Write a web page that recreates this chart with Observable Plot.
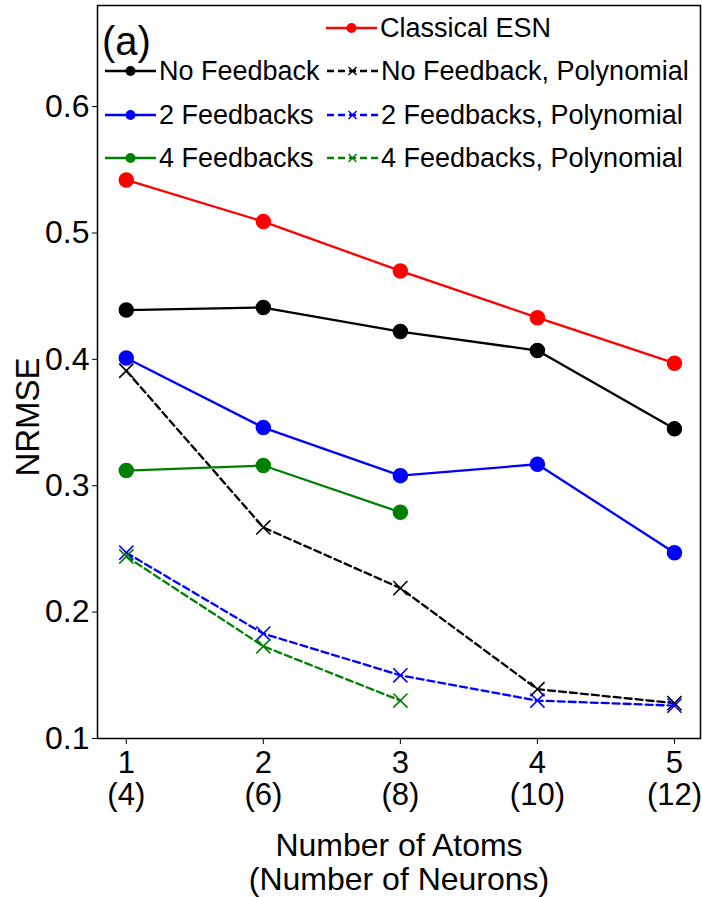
<!DOCTYPE html>
<html>
<head>
<meta charset="utf-8">
<script src="https://cdn.jsdelivr.net/npm/d3@7"></script>
<script src="https://cdn.jsdelivr.net/npm/@observablehq/plot@0.6"></script>
<style>
  html, body { margin: 0; padding: 0; background: white; }
  svg text { font-family: "Liberation Sans", Arial, sans-serif; }
</style>
</head>
<body>
<div id="chart"></div>
<script>
// ---- data ----
const atoms = [1, 2, 3, 4, 5];
const neurons = [4, 6, 8, 10, 12];
const yTicks = [0.1, 0.2, 0.3, 0.4, 0.5, 0.6];

const classicalESN = [0.542, 0.509, 0.470, 0.433, 0.397];
const noFeedback = [0.439, 0.441, 0.422, 0.407, 0.345];
const feedbacks2 = [0.401, 0.346, 0.308, 0.317, 0.247];
const feedbacks4 = [0.312, 0.316, 0.279];
const noFeedbackPoly = [0.391, 0.267, 0.219, 0.139, 0.128];
const feedbacks2Poly = [0.247, 0.183, 0.150, 0.130, 0.126];
const feedbacks4Poly = [0.244, 0.173, 0.130];

const seriesDefs = [
  {name: "Classical ESN", values: classicalESN, color: "#ff0000", poly: false},
  {name: "No Feedback", values: noFeedback, color: "#000000", poly: false},
  {name: "No Feedback, Polynomial", values: noFeedbackPoly, color: "#000000", poly: true},
  {name: "2 Feedbacks", values: feedbacks2, color: "#0000ff", poly: false},
  {name: "2 Feedbacks, Polynomial", values: feedbacks2Poly, color: "#0000ff", poly: true},
  {name: "4 Feedbacks", values: feedbacks4, color: "#008000", poly: false},
  {name: "4 Feedbacks, Polynomial", values: feedbacks4Poly, color: "#008000", poly: true}
];

const FONT = "Liberation Sans, Arial, sans-serif";
const marks = [];
marks.push(Plot.frame({stroke: "black", strokeWidth: 1.5}));
marks.push(Plot.axisY({
  ticks: yTicks, tickSize: 5, tickPadding: 3, fontSize: 32,
  tickFormat: d => d.toFixed(1), label: null
}));
marks.push(Plot.axisX({
  ticks: atoms, tickSize: 6, tickPadding: 5, fontSize: 31, lineHeight: 1.05,
  tickFormat: (d, i) => `${d}\n(${neurons[atoms.indexOf(d)]})`, label: null
}));

for (const s of seriesDefs) {
  const data = s.values.map((v, i) => ({x: atoms[i], y: v}));
  marks.push(Plot.line(data, {
    x: "x", y: "y", stroke: s.color, strokeWidth: 2.3,
    strokeDasharray: s.poly ? "7,4" : null
  }));
  if (s.poly) {
    marks.push(Plot.dot(data, {x: "x", y: "y", symbol: "times", r: 6.5, stroke: s.color, strokeWidth: 1.6}));
  } else {
    marks.push(Plot.dot(data, {x: "x", y: "y", r: 7, fill: s.color, stroke: s.color}));
  }
}

const chart = Plot.plot({
  width: 702, height: 897,
  marginLeft: 97, marginRight: 2, marginTop: 5, marginBottom: 159,
  x: {domain: [0.79, 5.19]},
  y: {domain: [0.1, 0.68]},
  style: {fontFamily: FONT, background: "white", color: "black", overflow: "visible"},
  marks
});
document.getElementById("chart").appendChild(chart);

const svg = d3.select(chart);
// ---- axis titles ----
const titles = svg.append("g").attr("font-family", FONT).attr("fill", "black");
titles.append("text").attr("transform", "translate(27,417) rotate(-90)")
  .attr("text-anchor", "middle").attr("dy", "0.35em").attr("font-size", 33).text("NRMSE");
titles.append("text").attr("x", 399).attr("y", 856).attr("text-anchor", "middle")
  .attr("font-size", 32).text("Number of Atoms");
titles.append("text").attr("x", 399).attr("y", 890).attr("text-anchor", "middle")
  .attr("font-size", 32).text("(Number of Neurons)");

// ---- legend inside the frame (upper part) ----
const leg = svg.append("g").attr("font-family", FONT).attr("font-size", 27).attr("text-anchor", "start");
leg.append("text").attr("x", 102).attr("y", 55).attr("font-size", 40).text("(a)");
const layout = [
  {name: "Classical ESN", x: 326, y: 28},
  {name: "No Feedback", x: 105, y: 71},
  {name: "No Feedback, Polynomial", x: 327, y: 71},
  {name: "2 Feedbacks", x: 105, y: 115},
  {name: "2 Feedbacks, Polynomial", x: 327, y: 115},
  {name: "4 Feedbacks", x: 105, y: 158},
  {name: "4 Feedbacks, Polynomial", x: 327, y: 158}
];
for (const L of layout) {
  const s = seriesDefs.find(d => d.name === L.name);
  const g = leg.append("g");
  g.append("line").attr("x1", L.x).attr("x2", L.x + 51).attr("y1", L.y).attr("y2", L.y)
    .attr("stroke", s.color).attr("stroke-width", 2.3)
    .attr("stroke-dasharray", s.poly ? "7,4" : null);
  const cx = L.x + 25.5;
  if (s.poly) {
    g.append("path").attr("d", `M${cx-4},${L.y-4}L${cx+4},${L.y+4}M${cx-4},${L.y+4}L${cx+4},${L.y-4}`)
      .attr("stroke", s.color).attr("stroke-width", 1.4);
  } else {
    g.append("circle").attr("cx", cx).attr("cy", L.y).attr("r", 5).attr("fill", s.color);
  }
  g.append("text").attr("x", L.x + 54).attr("y", L.y).attr("dy", "0.35em").attr("fill", "black").text(s.name);
}
</script>
</body>
</html>
